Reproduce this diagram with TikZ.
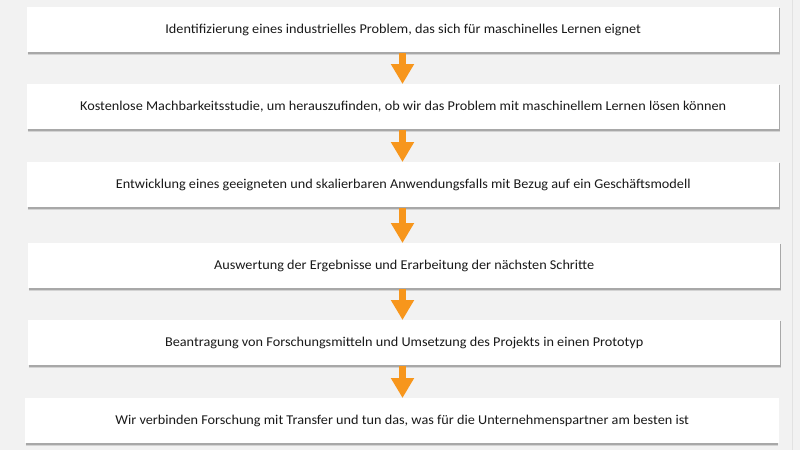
\documentclass[tikz,border=0pt]{standalone}
\usepackage{fontspec}
\setmainfont{Carlito}
\usetikzlibrary{arrows.meta}
\definecolor{bgc}{HTML}{F2F2F2}
\definecolor{edgec}{HTML}{E2E2E2}
\definecolor{orng}{HTML}{F7961C}
\definecolor{txtc}{HTML}{1A1A1A}
\definecolor{shd}{HTML}{8C8C8C}
\newcommand{\steptext}[1]{\scalebox{1.055}[1]{#1}}
\begin{document}
\begin{tikzpicture}[x=1pt,y=-1pt,
  stepbox/.style={fill=white, minimum width=752pt, minimum height=45pt, inner sep=0pt,
    text=txtc, font=\fontsize{13.5}{15}\selectfont, anchor=north west},
  flowarrow/.style={orng, line width=7pt, -{Triangle[width=22pt,length=20pt]}, shorten <=1pt}
]
\fill[bgc] (0,0) rectangle (800,450);
\useasboundingbox (0,0) rectangle (800,450);
\draw[edgec, line width=1pt] (792.5,0) -- (792.5,450);
% shadows
\foreach \t/\l in {7/27,84/27,162/27,243/28,320/28,398/25}{
  \fill[shd, opacity=0.3] (\l+1,\t+1) rectangle (\l+753,\t+48);
  \fill[shd, opacity=0.6] (\l+0.5,\t+1) rectangle (\l+752.5,\t+46.8);
}
\node[stepbox] (b1) at (27,7) {\steptext{Identifizierung eines industrielles Problem, das sich für maschinelles Lernen eignet}};
\node[stepbox] (b2) at (27,84) {\steptext{Kostenlose Machbarkeitsstudie, um herauszufinden, ob wir das Problem mit maschinellem Lernen lösen können}};
\node[stepbox] (b3) at (27,162) {\steptext{Entwicklung eines geeigneten und skalierbaren Anwendungsfalls mit Bezug auf ein Geschäftsmodell}};
\node[stepbox] (b4) at (28,243) {\steptext{Auswertung der Ergebnisse und Erarbeitung der nächsten Schritte}};
\node[stepbox] (b5) at (28,320) {\steptext{Beantragung von Forschungsmitteln und Umsetzung des Projekts in einen Prototyp}};
\node[stepbox, minimum width=754pt] (b6) at (25,398) {\steptext{Wir verbinden Forschung mit Transfer und tun das, was für die Unternehmenspartner am besten ist}};
% arrows
\foreach \a/\b in {b1/b2,b2/b3,b3/b4,b4/b5,b5/b6}{
  \draw[flowarrow] (\a.south -| 402.5,0) -- (\b.north -| 402.5,0);
}
\end{tikzpicture}
\end{document}
